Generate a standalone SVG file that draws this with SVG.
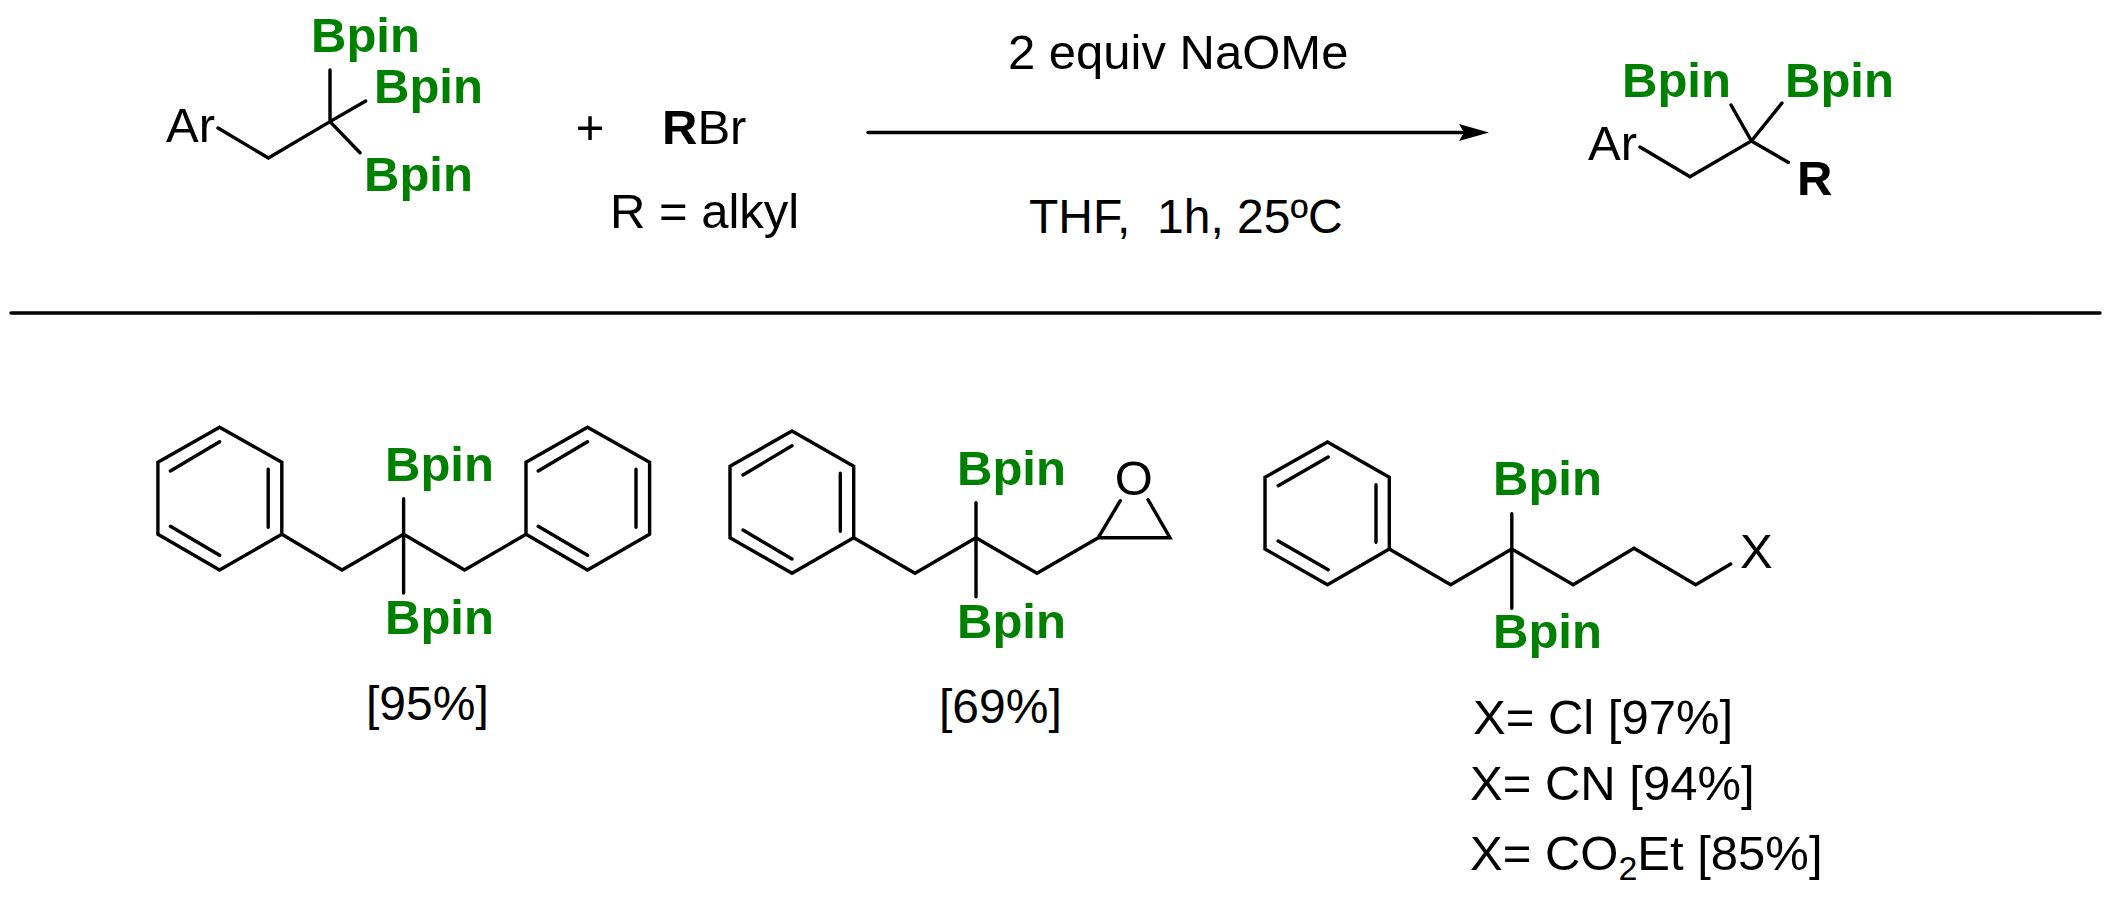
<svg xmlns="http://www.w3.org/2000/svg" width="2114" height="901" viewBox="0 0 2114 901">
<style>
text{font-family:"Liberation Sans",Arial,sans-serif;font-size:49px;fill:#000}
.g{font-weight:700;fill:#008000;font-size:49px}
.b{font-weight:700}
.s{font-size:48px}
.bond{fill:none;stroke:#000;stroke-width:3.4;stroke-linecap:round;stroke-linejoin:miter}
</style>
<defs><marker id="ah" markerUnits="userSpaceOnUse" markerWidth="32" markerHeight="20" refX="10" refY="8.5" orient="auto"><path d="M0 0L30 8.5L0 17L5 8.5Z" fill="#000"/></marker></defs>
<rect width="2114" height="901" fill="#fff"/>
<g id="connectors">
<path id="divider" class="bond" d="M11 313H2100"/>
<path id="reaction-arrow" class="bond" d="M868 132.5H1469" marker-end="url(#ah)"/>
</g>
<g id="reactant">
<path class="bond" d="M218 128L268.4 158L330 121.6L330 70M330 121.6L365.7 101M330 121.6L360 152.7"/>
<text x="166" y="142">Ar</text>
<text class="g" x="311" y="52">Bpin</text><text class="g" x="374" y="103">Bpin</text><text class="g" x="364" y="191">Bpin</text>
</g>
<g id="plus"><text x="590" y="144" text-anchor="middle">+</text></g>
<g id="reagent"><text x="662" y="144"><tspan class="b">R</tspan>Br</text><text x="610" y="228">R = alkyl</text></g>
<g id="conditions"><text x="1008" y="69">2 equiv NaOMe</text><text class="s" x="1029" y="233" xml:space="preserve">THF,  1h, 25ºC</text></g>
<g id="product">
<path class="bond" d="M1640 147L1690 176.7L1751.4 141L1731 105M1751.4 141L1782 103M1751.4 141L1788.5 162.5"/>
<text x="1588" y="160">Ar</text>
<text class="g" x="1622" y="97">Bpin</text><text class="g" x="1785" y="97">Bpin</text>
<text class="b" x="1797" y="195">R</text>
</g>
<g id="compound-95">
<path class="bond" d="M219.6 427.3L281.8 462.3V534.3L219.6 570L157.9 534.3V462.3ZM170.4 471L219.6 441.7M268.2 469.3V527.3M170.4 526.3L219.6 555.3M281.8 534.3L342 570L403.6 534.3L464.6 570L526 534.3V462.3L587.5 427.3L649.6 462.3V534.3L587.5 570L526 534.3M538.2 471L587.5 441.7M636 469.3V527.3M538.2 526.3L587.5 555.3M403.6 498.7V593"/>
<text class="g" x="385" y="481">Bpin</text><text class="g" x="385" y="634">Bpin</text>
<text class="s" x="366" y="720">[95%]</text>
</g>
<g id="compound-69">
<path class="bond" d="M792 431L853.7 466.3V537.7L792 573.3L730 537.7V466.3ZM743 475L792 445.7M840.3 473.3V531.3M743 530L792 559M853.7 537.7L915 573.3L976 537.7L1037 573.3L1098.3 537.7H1170L1148 499.7M1098.3 537.7L1120.3 500.7M976 502.7V596.7"/>
<text class="g" x="957" y="485">Bpin</text><text class="g" x="957" y="638">Bpin</text>
<text x="1133.7" y="495" text-anchor="middle">O</text>
<text class="s" x="939" y="723">[69%]</text>
</g>
<g id="compound-x">
<path class="bond" d="M1327.5 442L1389.3 477.3V549L1327.5 584.7L1265 549V477.3ZM1278.2 485.7L1328.2 457M1376 484.7V542.3M1278.2 541L1328.2 569.7M1389.3 549L1450.7 584.7L1511.8 549L1573.2 584.7L1634 548.3L1695.7 584.7L1730.7 564M1511.8 513.7V608.3"/>
<text class="g" x="1493" y="495">Bpin</text><text class="g" x="1493" y="648">Bpin</text>
<text x="1740" y="568">X</text>
<text x="1473" y="734">X= Cl [97%]</text>
<text x="1470" y="800">X= CN [94%]</text>
<text x="1470" y="870">X= CO<tspan font-size="34" dy="10">2</tspan><tspan dy="-10">Et [85%]</tspan></text>
</g>
</svg>
